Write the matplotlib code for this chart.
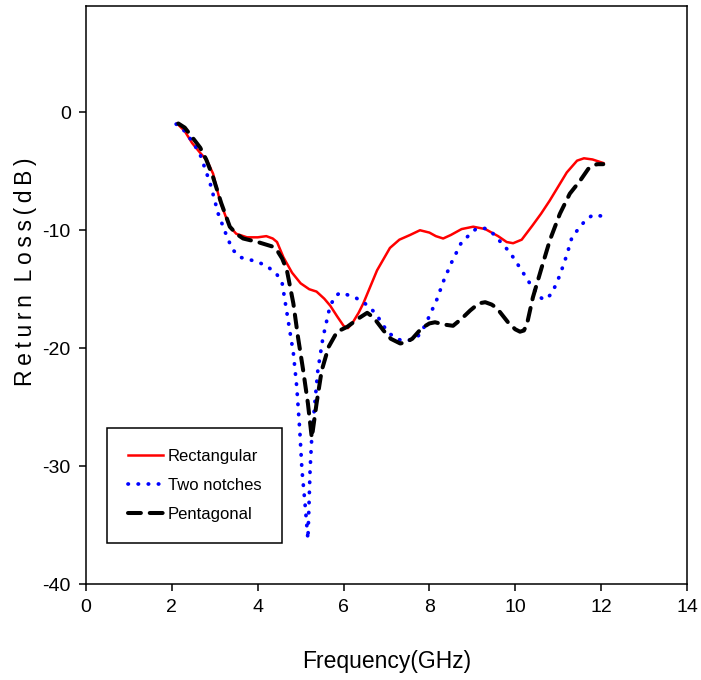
import matplotlib
matplotlib.use("Agg")
import matplotlib.pyplot as plt

plt.rcParams["axes.unicode_minus"] = False

# values
rect_x = [2.12, 2.3, 2.47, 2.65, 2.82, 2.96, 3.12, 3.25, 3.35, 3.5, 3.75, 4.0, 4.2, 4.35, 4.45,
          4.6, 4.8, 5.0, 5.2, 5.37, 5.55, 5.69, 5.85, 6.0, 6.1, 6.2, 6.35, 6.46, 6.78, 7.08,
          7.3, 7.55, 7.78, 8.0, 8.15, 8.32, 8.5, 8.75, 9.02, 9.3, 9.6, 9.8, 9.95, 10.15, 10.4,
          10.6, 10.8, 11.0, 11.2, 11.44, 11.6, 11.8, 12.05]
rect_y = [-0.95, -1.6, -2.6, -3.4, -4.1, -5.2, -7.5, -8.8, -9.7, -10.3, -10.6, -10.6, -10.5, -10.7, -11.0,
          -12.3, -13.6, -14.5, -15.0, -15.2, -15.8, -16.4, -17.3, -18.1, -18.3, -17.9, -17.0, -16.2, -13.4, -11.5,
          -10.8, -10.4, -10.0, -10.2, -10.5, -10.7, -10.4, -9.9, -9.7, -9.9, -10.5, -11.0, -11.1, -10.8, -9.6,
          -8.6, -7.5, -6.3, -5.1, -4.1, -3.9, -4.0, -4.3]

notch_x = [2.1, 2.3, 2.5, 2.66, 2.89, 3.08, 3.31, 3.43, 3.6, 3.82, 4.0, 4.2, 4.44, 4.57, 4.68,
           4.83, 4.91, 4.98, 5.03, 5.1, 5.17, 5.22, 5.26, 5.33, 5.4, 5.52, 5.68, 5.8, 5.92, 6.03,
           6.27, 6.46, 6.6, 6.78, 6.89, 7.05, 7.24, 7.4, 7.55, 7.73, 7.85, 7.97, 8.17, 8.34, 8.52,
           8.75, 9.08, 9.25, 9.41, 9.71, 9.88, 10.13, 10.39, 10.55, 10.67, 10.85, 11.04, 11.2, 11.32,
           11.51, 11.65, 11.81, 12.02]
notch_y = [-1.0, -1.6, -2.6, -3.6, -6.0, -8.6, -10.8, -11.7, -12.3, -12.5, -12.7, -13.0, -13.7, -14.5, -17.0,
           -20.4, -23.3, -27.0, -30.3, -33.1, -36.2, -30.3, -27.5, -24.7, -21.9, -19.1, -16.5, -15.6, -15.3, -15.4,
           -15.7, -16.1, -16.5, -17.2, -17.9, -18.7, -19.2, -19.4, -19.3, -19.0, -18.4, -17.5, -15.9, -14.2, -12.7,
           -11.0, -9.9, -9.8, -10.0, -11.2, -11.9, -13.3, -14.8, -15.6, -15.9, -15.4, -13.8, -12.1, -10.6,
           -9.7, -9.1, -8.7, -8.8]

pent_x = [2.15, 2.3, 2.45, 2.66, 2.8, 2.96, 3.15, 3.35, 3.5, 3.66, 4.0, 4.36, 4.45, 4.57, 4.68,
          4.83, 4.94, 5.06, 5.17, 5.26, 5.37, 5.49, 5.65, 5.85, 6.08, 6.38, 6.55, 6.7, 6.93, 7.1,
          7.32, 7.45, 7.6, 7.82, 8.0, 8.13, 8.35, 8.55, 8.75, 8.95, 9.15, 9.3, 9.45, 9.57, 9.7,
          9.83, 10.0, 10.11, 10.2, 10.27, 10.41, 10.62, 10.81, 11.04, 11.27, 11.51, 11.7, 11.9, 12.05]
pent_y = [-0.95, -1.3, -2.0, -3.0, -4.0, -5.5, -7.7, -9.7, -10.3, -10.7, -11.0, -11.4, -11.7, -12.4, -13.4,
          -16.2, -19.1, -21.9, -24.7, -27.6, -24.7, -21.9, -19.9, -18.6, -18.2, -17.4, -17.0, -17.4, -18.5, -19.2,
          -19.6, -19.5, -19.2, -18.3, -17.9, -17.8, -18.0, -18.1, -17.5, -16.8, -16.2, -16.1, -16.3, -16.6, -17.2,
          -17.8, -18.4, -18.6, -18.5, -18.0, -15.7, -13.1, -10.8, -8.6, -6.9, -5.8, -4.8, -4.4, -4.4]

series_names = ["Rectangular", "Two notches", "Pentagonal"]
x_ticks = [0, 2, 4, 6, 8, 10, 12, 14]
y_ticks = [-40, -30, -20, -10, 0]

font = ["Liberation Sans", "DejaVu Sans"]

fig = plt.figure(figsize=(7.01, 6.80), dpi=100)
ax = fig.add_axes([0.1227, 0.141, 0.8573, 0.85])

ax.plot(rect_x, rect_y, color="#ff0000", lw=1.8, label=series_names[0])
ax.plot(notch_x, notch_y, color="#0000ff", lw=2.7, linestyle=(0, (0.1, 2.6)),
        dash_capstyle="round", label=series_names[1])
ax.plot(pent_x, pent_y, color="black", lw=2.9, linestyle=(0, (3.2, 2.2)),
        dash_capstyle="round", label=series_names[2])

ax.set_xlim(0, 14)
ax.set_ylim(-40, 9)
ax.set_xticks(x_ticks)
ax.set_yticks(y_ticks)
ax.tick_params(direction="out", length=5, width=1.1, top=False, right=False, pad=6)
for lab in ax.get_xticklabels() + ax.get_yticklabels():
    lab.set_family(font)
    lab.set_fontsize(14)
for s in ax.spines.values():
    s.set_linewidth(1.1)

ax.set_xlabel("Frequency(GHz)", family=font, fontsize=16.5, labelpad=24)
# letter-spaced axis title as in the original
ylab = "\u2009".join("Return") + "  " + "\u2009".join("Loss(dB)")
ax.set_ylabel(ylab, family=font, fontsize=16.5)
ax.yaxis.set_label_coords(-0.082, 0.54)

leg = ax.legend(loc="lower left", bbox_to_anchor=(0.035, 0.071), borderaxespad=0,
                prop={"family": font, "size": 12}, fancybox=False, edgecolor="black",
                framealpha=1, handlelength=2.1, borderpad=1.25, labelspacing=0.85,
                handletextpad=0.3)
leg.get_frame().set_linewidth(1.1)

fig.savefig("out.png", dpi=100)
